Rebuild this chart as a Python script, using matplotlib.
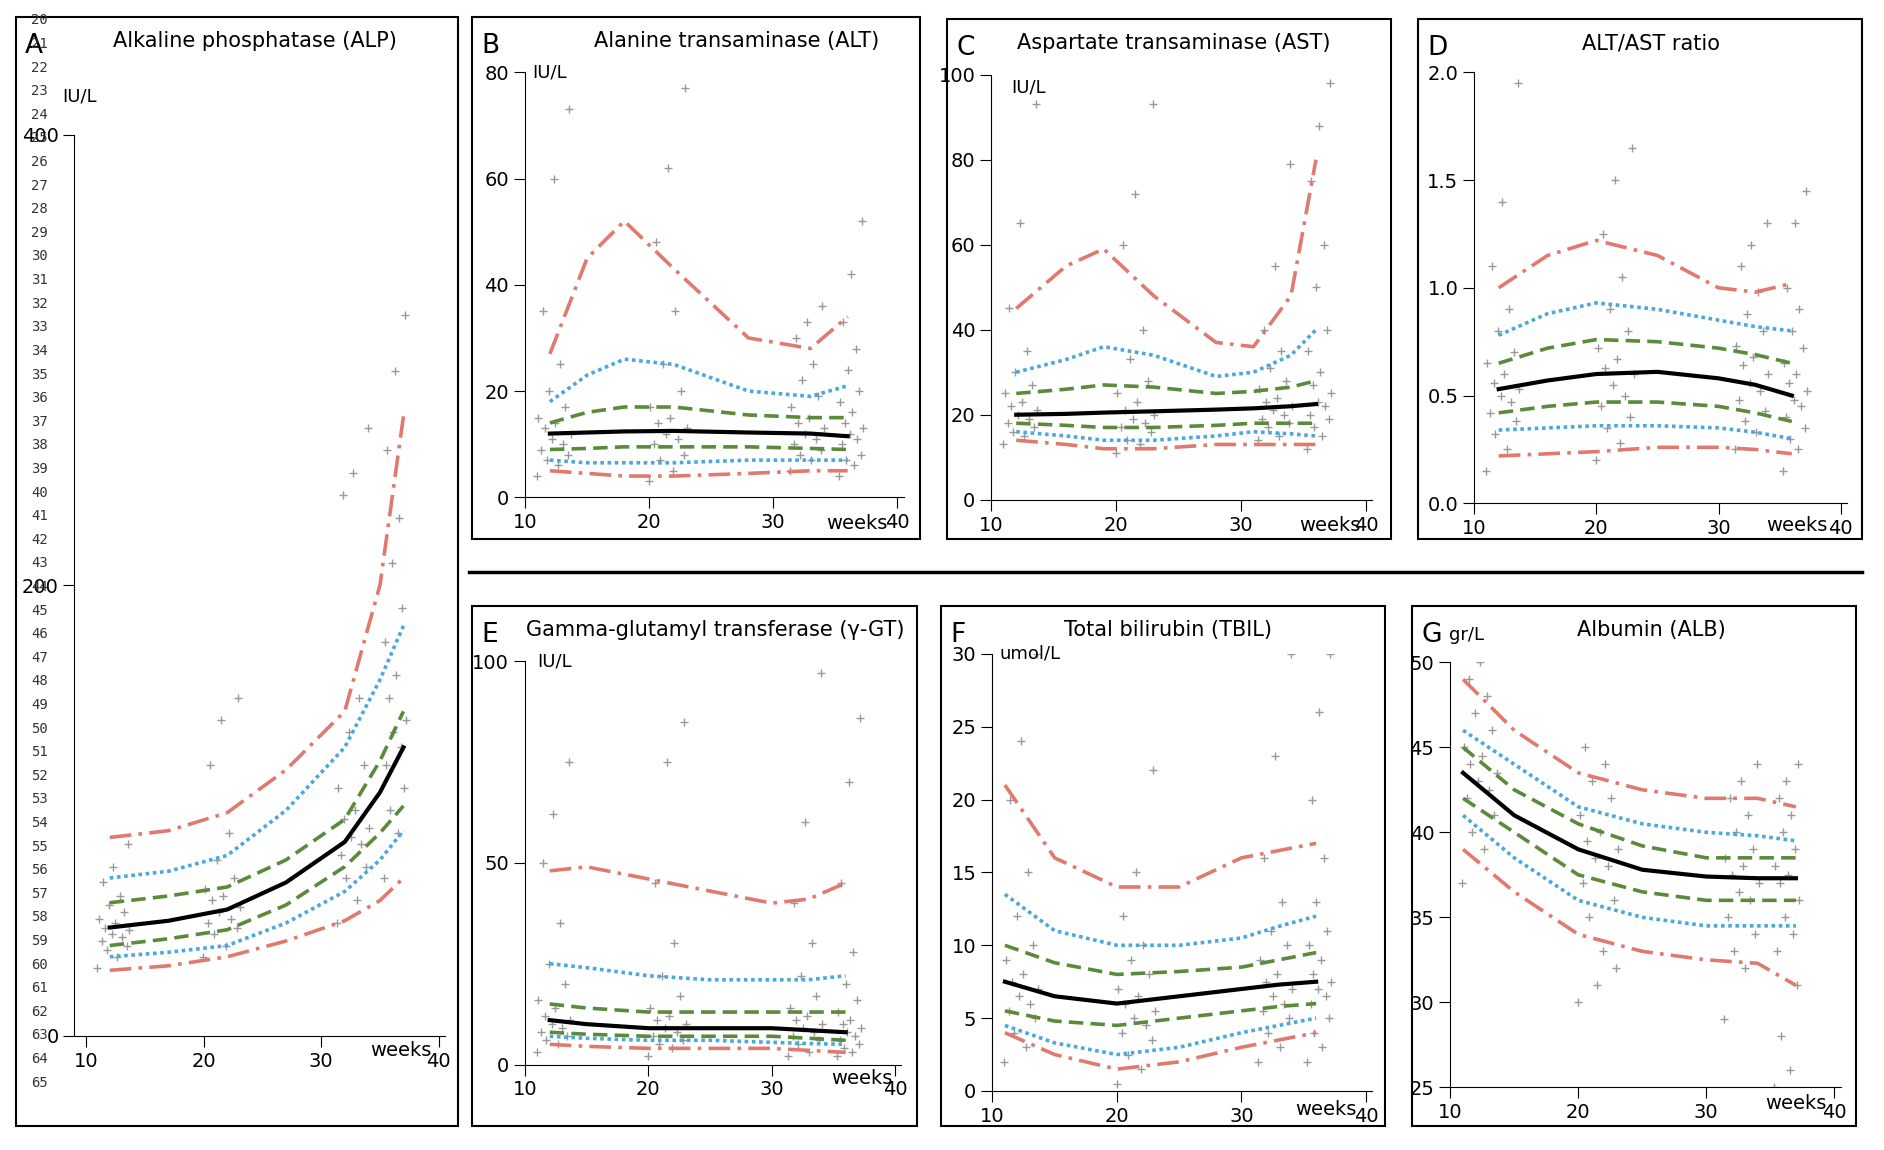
import matplotlib.pyplot as plt
from matplotlib.patches import Rectangle
from matplotlib.lines import Line2D

W, H = 1568.0, 955.0

# centile curves: 3rd, 10th, 25th, 50th, 75th, 90th, 97th
alp_weeks = [12, 17, 22, 27, 32, 35, 37]
alp_curves = [
    [29, 31, 35, 42, 51, 60, 70],
    [35, 37, 40, 50, 64, 78, 91],
    [40, 43, 47, 58, 75, 90, 102],
    [48, 51, 56, 68, 86, 108, 128],
    [59, 62, 66, 78, 96, 122, 144],
    [70, 73, 80, 100, 128, 158, 182],
    [88, 91, 99, 118, 144, 200, 275],
]
alt_weeks = [12, 15, 18, 22, 28, 33, 36]
alt_curves = [
    [5, 4.5, 4, 4, 4.5, 5, 5],
    [7, 6.5, 6.5, 6.5, 7, 7, 7],
    [9, 9.2, 9.5, 9.5, 9.5, 9.2, 9],
    [12, 12.2, 12.4, 12.5, 12.2, 12, 11.5],
    [14, 16, 17, 17, 15.5, 15, 15],
    [18, 23, 26, 25, 20, 19, 21],
    [27, 45, 52, 43, 30, 28, 34],
]
ast_weeks = [12, 16, 19, 23, 28, 31, 34, 36]
ast_curves = [
    [14, 13, 12, 12, 13, 13, 13, 13],
    [16, 15, 14, 14, 15, 16, 15.5, 15],
    [18, 17.5, 17, 17, 17.5, 18, 18, 18],
    [20, 20.2, 20.5, 20.8, 21.2, 21.5, 22, 22.5],
    [25, 26, 27, 26.5, 25, 25.5, 26.5, 28],
    [30, 33, 36, 34, 29, 30, 34, 40],
    [45, 55, 59, 48, 37, 36, 48, 80],
]
ratio_weeks = [12, 16, 20, 25, 30, 33, 36]
ratio_curves = [
    [0.22, 0.23, 0.24, 0.26, 0.26, 0.25, 0.23],
    [0.34, 0.35, 0.36, 0.36, 0.35, 0.33, 0.30],
    [0.42, 0.45, 0.47, 0.47, 0.45, 0.42, 0.38],
    [0.53, 0.57, 0.60, 0.61, 0.58, 0.55, 0.50],
    [0.65, 0.72, 0.76, 0.75, 0.72, 0.69, 0.65],
    [0.78, 0.88, 0.93, 0.90, 0.85, 0.82, 0.80],
    [1.00, 1.15, 1.22, 1.15, 1.00, 0.98, 1.02],
]
ggt_weeks = [12, 15, 20, 25, 30, 33, 36]
ggt_curves = [
    [5, 4.5, 4, 4, 4, 3.5, 3],
    [7, 6.5, 6, 6, 5.5, 5.2, 5],
    [8, 7.5, 7, 7, 7, 6.5, 6],
    [11, 10, 9, 9, 9, 8.5, 8],
    [15, 14, 13, 13, 13, 13, 13],
    [25, 24, 22, 21, 21, 21, 22],
    [48, 49, 46, 43, 40, 41, 45],
]
tbil_weeks = [11, 15, 20, 25, 30, 33, 36]
tbil_curves = [
    [4, 2.5, 1.5, 2, 3, 3.5, 4],
    [4.5, 3.3, 2.5, 3, 4, 4.5, 5],
    [5.5, 4.8, 4.5, 5, 5.5, 5.8, 6],
    [7.5, 6.5, 6, 6.5, 7, 7.3, 7.5],
    [10, 8.8, 8, 8.2, 8.5, 9, 9.5],
    [13.5, 11, 10, 10, 10.5, 11.3, 12],
    [21, 16, 14, 14, 16, 16.5, 17],
]
alb_weeks = [11, 15, 20, 25, 30, 34, 37]
alb_curves = [
    [39, 36.5, 34, 33, 32.5, 32.3, 31],
    [41, 38.5, 36, 35, 34.5, 34.5, 34.5],
    [42, 40, 37.5, 36.5, 36, 36, 36],
    [43.5, 41, 39, 37.8, 37.4, 37.3, 37.3],
    [45, 42.5, 40.5, 39.2, 38.5, 38.5, 38.5],
    [46, 44, 41.5, 40.5, 40, 39.8, 39.5],
    [49, 46, 43.5, 42.5, 42, 42, 41.5],
]

# scatter clusters (week ranges and measured values)
cluster_ranges = [(10.8, 13.8), (19.8, 23.2), (31.2, 34.2), (35.2, 37.3)]
spread = [0.05, 0.62, 0.31, 0.88, 0.17, 0.74, 0.45, 0.96, 0.26, 0.55,
          0.09, 0.81, 0.38, 0.68, 0.21, 0.50, 0.92]
alp_pts = [
    [30, 35, 38, 40, 42, 44, 45, 47, 48, 50, 52, 55, 58, 62, 68, 75, 85],
    [35, 40, 45, 48, 50, 52, 55, 57, 60, 62, 65, 70, 78, 90, 120, 140, 150],
    [50, 60, 70, 75, 80, 85, 88, 92, 96, 100, 110, 120, 135, 150, 240, 250, 270],
    [70, 90, 100, 110, 120, 128, 135, 140, 150, 160, 175, 190, 210, 230, 260, 295, 320],
]
alt_pts = [
    [4, 6, 7, 8, 9, 10, 11, 12, 13, 14, 15, 17, 20, 25, 35, 60, 73],
    [3, 5, 7, 8, 10, 11, 12, 13, 14, 15, 17, 20, 25, 35, 48, 62, 77],
    [5, 7, 8, 9, 10, 11, 12, 13, 14, 15, 17, 19, 22, 25, 30, 33, 36],
    [4, 6, 7, 8, 10, 11, 12, 13, 14, 16, 18, 20, 24, 28, 33, 42, 52],
]
ast_pts = [
    [13, 15, 16, 17, 18, 19, 20, 21, 22, 23, 25, 27, 30, 35, 45, 65, 93],
    [11, 13, 14, 16, 17, 18, 19, 20, 21, 23, 25, 28, 33, 40, 60, 72, 93],
    [14, 15, 17, 18, 19, 20, 21, 22, 23, 24, 26, 28, 31, 35, 40, 55, 79],
    [12, 15, 17, 19, 20, 22, 23, 25, 27, 30, 35, 40, 50, 60, 75, 88, 98],
]
ratio_pts = [
    [0.15, 0.25, 0.32, 0.38, 0.42, 0.47, 0.5, 0.53, 0.56, 0.6, 0.65, 0.7, 0.8, 0.9, 1.1, 1.4, 1.95],
    [0.2, 0.28, 0.35, 0.4, 0.45, 0.5, 0.55, 0.6, 0.63, 0.67, 0.72, 0.8, 0.9, 1.05, 1.25, 1.5, 1.65],
    [0.25, 0.33, 0.38, 0.43, 0.48, 0.52, 0.56, 0.6, 0.64, 0.68, 0.73, 0.8, 0.88, 0.98, 1.1, 1.2, 1.3],
    [0.15, 0.25, 0.3, 0.35, 0.4, 0.45, 0.48, 0.52, 0.56, 0.6, 0.65, 0.72, 0.8, 0.9, 1.0, 1.3, 1.45],
]
ggt_pts = [
    [3, 5, 6, 7, 8, 9, 10, 11, 12, 14, 16, 20, 25, 35, 50, 62, 75],
    [2, 4, 5, 6, 7, 8, 9, 10, 11, 12, 14, 17, 22, 30, 45, 75, 85],
    [2, 3, 5, 6, 7, 8, 9, 10, 11, 12, 14, 17, 22, 30, 40, 60, 97],
    [2, 3, 4, 5, 6, 7, 8, 9, 10, 11, 13, 16, 20, 28, 45, 70, 86],
]
tbil_pts = [
    [2, 3, 4, 5, 5.5, 6, 6.5, 7, 7.5, 8, 9, 10, 12, 15, 20, 24, 30],
    [0.5, 1.5, 2.5, 3.5, 4, 4.5, 5, 5.5, 6, 6.5, 7, 8, 9, 10, 12, 15, 22],
    [2, 3, 4, 5, 5.5, 6, 6.5, 7, 7.5, 8, 9, 10, 11, 13, 16, 23, 30],
    [2, 3, 4, 5, 6, 6.5, 7, 7.5, 8, 9, 10, 11, 13, 16, 20, 26, 30],
]
alb_pts = [
    [37, 39, 40, 41, 42, 42.5, 43, 43.5, 44, 44.5, 45, 46, 47, 48, 49, 50, 51],
    [30, 33, 35, 36, 37, 38, 38.5, 39, 39.5, 40, 41, 42, 43, 44, 45, 31, 32],
    [29, 32, 33, 34, 35, 36, 36.5, 37, 37.5, 38, 38.5, 39, 40, 41, 42, 43, 44],
    [25, 26, 28, 31, 33, 34, 35, 36, 37, 37.5, 38, 39, 40, 41, 42, 43, 44],
]

RED, BLUE, GREEN = '#e07a6e', '#4aa8dc', '#5a8a3a'
styles = [(RED, (0, (6, 2, 1, 2))), (BLUE, (0, (1, 1))), (GREEN, (0, (4, 2))),
          ('black', '-'), (GREEN, (0, (4, 2))), (BLUE, (0, (1, 1))), (RED, (0, (6, 2, 1, 2)))]

fig = plt.figure(figsize=(18.84, 11.5), dpi=100)


def px_box(x0, y0, x1, y1):
    return [x0 / W, 1 - y1 / H, (x1 - x0) / W, (y1 - y0) / H]


def fig_text(x, y, s, **kw):
    fig.text(x / W, 1 - y / H, s, **kw)


def panel(box, axbox, letter, title, tx, weeks, curves, pts, xlim, ylim, yticks,
          ylabels, unit, unit_xy, weeks_xy):
    fig.add_artist(Rectangle((box[0] / W, 1 - box[3] / H), (box[2] - box[0]) / W,
                             (box[3] - box[1]) / H, transform=fig.transFigure,
                             fill=False, ec='black', lw=1.5))
    ax = fig.add_axes(px_box(*axbox))
    for (lo, hi), ys in zip(cluster_ranges, pts):
        xs = [lo + f * (hi - lo) for f in spread]
        ax.scatter(xs, ys, marker='+', s=30, color='#999999', lw=1, zorder=1)
    for c, (col, ls) in zip(curves, styles):
        ax.plot(weeks, c, color=col, ls=ls, lw=3 if col == 'black' else 2.6, zorder=3)
    ax.set_xlim(*xlim)
    ax.set_ylim(*ylim)
    ax.set_xticks([10, 20, 30, 40])
    ax.set_yticks(yticks)
    ax.set_yticklabels(ylabels)
    ax.spines[['top', 'right']].set_visible(False)
    ax.tick_params(labelsize=14, length=8, direction='out')
    fig_text(box[0] + 8, box[1] + 24, letter, fontsize=19, va='center')
    fig_text(tx, box[1] + 20, title, fontsize=15, ha='center', va='center')
    fig_text(unit_xy[0], unit_xy[1], unit, fontsize=13, va='center')
    fig_text(weeks_xy[0], weeks_xy[1], 'weeks', fontsize=14, va='center')
    return ax


panel((13, 14, 381, 935), (62, 112, 370, 860), 'A', 'Alkaline phosphatase (ALP)', 212,
      alp_weeks, alp_curves, alp_pts, (9, 40.5), (0, 400), [0, 200, 400],
      ['0', '200', '400'], 'IU/L', (52, 80), (308, 872))
panel((393, 14, 766, 448), (437, 60, 752, 413), 'B', 'Alanine transaminase (ALT)', 613,
      alt_weeks, alt_curves, alt_pts, (10, 40.5), (0, 80), [0, 20, 40, 60, 80],
      ['0', '20', '40', '60', '80'], 'IU/L', (443, 60), (688, 435))
panel((788, 16, 1158, 448), (825, 62, 1142, 415), 'C', 'Aspartate transaminase (AST)', 977,
      ast_weeks, ast_curves, ast_pts, (10, 40.5), (0, 100), [0, 20, 40, 60, 80, 100],
      ['0', '20', '40', '60', '80', '100'], 'IU/L', (842, 73), (1081, 436))
panel((1180, 16, 1550, 448), (1227, 60, 1537, 418), 'D', 'ALT/AST ratio', 1374,
      ratio_weeks, ratio_curves, ratio_pts, (10, 40.5), (0, 2.0), [0, 0.5, 1.0, 1.5, 2.0],
      ['0.0', '0.5', '1.0', '1.5', '2.0'], '', (1240, 70), (1470, 436))
panel((393, 503, 763, 935), (437, 549, 750, 884), 'E', 'Gamma-glutamyl transferase (γ-GT)', 595,
      ggt_weeks, ggt_curves, ggt_pts, (10, 40.5), (0, 100), [0, 50, 100],
      ['0', '50', '100'], 'IU/L', (447, 549), (692, 896))
panel((783, 503, 1153, 935), (826, 543, 1142, 906), 'F', 'Total bilirubin (TBIL)', 972,
      tbil_weeks, tbil_curves, tbil_pts, (10, 40.5), (0, 30), [0, 5, 10, 15, 20, 25, 30],
      ['0', '5', '10', '15', '20', '25', '30'], 'umol/L', (832, 543), (1078, 921))
panel((1175, 503, 1545, 935), (1207, 550, 1532, 903), 'G', 'Albumin (ALB)', 1374,
      alb_weeks, alb_curves, alb_pts, (10, 40.5), (25, 50), [25, 30, 35, 40, 45, 50],
      ['25', '30', '35', '40', '45', '50'], 'gr/L', (1206, 527), (1469, 916))

# separator between rows
fig.add_artist(Line2D([390 / W, 1550 / W], [1 - 475 / H] * 2, transform=fig.transFigure,
                      color='black', lw=2.5))

# stray row numbers down the left margin
for i, n in enumerate(range(20, 66)):
    fig_text(40, 17 + i * 19.6, str(n), fontsize=10, family='DejaVu Sans Mono',
             ha='right', va='center', color='#333333')

fig.savefig('out.png', dpi=100)
